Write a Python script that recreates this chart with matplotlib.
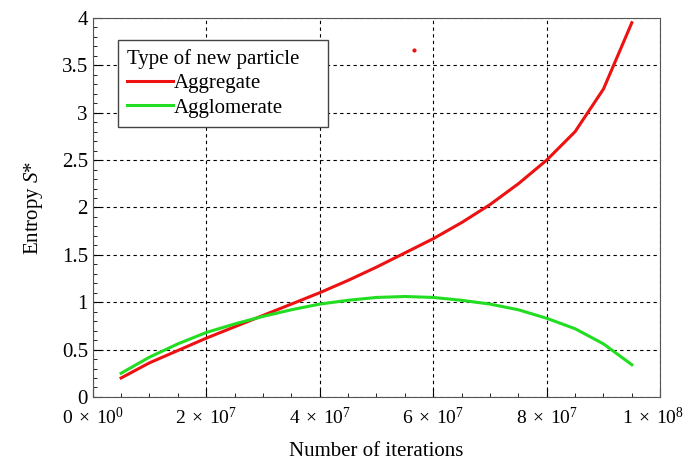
import numpy as np
import matplotlib
matplotlib.use('Agg')
import matplotlib.pyplot as plt
from matplotlib.ticker import MultipleLocator, FuncFormatter

plt.rcParams['font.family'] = 'Liberation Serif'
plt.rcParams['mathtext.fontset'] = 'custom'
plt.rcParams['mathtext.rm'] = 'Liberation Serif'
plt.rcParams['mathtext.it'] = 'Liberation Serif:italic'

# Data
iterations = [0.5e7, 1.0e7, 1.5e7, 2.0e7, 2.5e7, 3.0e7, 3.5e7, 4.0e7, 4.5e7, 5.0e7,
              5.5e7, 6.0e7, 6.5e7, 7.0e7, 7.5e7, 8.0e7, 8.5e7, 9.0e7, 9.5e7]
aggregate = [0.20, 0.36, 0.49, 0.62, 0.74, 0.86, 0.98, 1.10, 1.23, 1.37,
             1.52, 1.67, 1.84, 2.03, 2.25, 2.50, 2.80, 3.25, 3.95]
agglomerate = [0.25, 0.42, 0.56, 0.68, 0.77, 0.85, 0.92, 0.98, 1.02, 1.05,
               1.06, 1.05, 1.02, 0.98, 0.92, 0.83, 0.72, 0.56, 0.34]
stray_x = [5.66e7]
stray_y = [3.66]
x_max = 1e8

fig = plt.figure(figsize=(6.87, 4.61), dpi=100)
ax = fig.add_axes([0.135, 0.139, 0.826, 0.822])

ax.plot(iterations, aggregate, color='#ee1111', lw=2.2, label='Aggregate')
ax.plot(iterations, agglomerate, color='#22dd22', lw=2.2, label='Agglomerate')
ax.plot(stray_x, stray_y, 'o', color='#ee1111', ms=2)

ax.set_xlim(0, x_max)
ax.set_ylim(0, 4)
ax.xaxis.set_major_locator(MultipleLocator(2e7))
ax.xaxis.set_minor_locator(MultipleLocator(5e6))
ax.yaxis.set_major_locator(MultipleLocator(0.5))
ax.yaxis.set_minor_locator(MultipleLocator(0.1))


def sci(v, pos=None):
    if v <= 0:
        return r'$0\;\times\;10^{0}$'
    e = int(np.floor(np.log10(v) + 1e-9))
    m = v / 10 ** e
    return r'$%d\;\times\;10^{%d}$' % (round(m), e)


def xfmt(v, pos):
    # the label at the right end is drawn separately, pulled a little left
    if v >= x_max * 0.999:
        return ''
    return sci(v)


ax.xaxis.set_major_formatter(FuncFormatter(xfmt))
ax.yaxis.set_major_formatter(FuncFormatter(lambda v, p: ('%g' % v)))

ax.tick_params(which='both', direction='in', labelsize=15, colors='black')
ax.tick_params(axis='x', labelsize=14, pad=7)
ax.tick_params(which='major', length=6)
ax.tick_params(which='minor', length=3)
ax.grid(True, which='major', ls=(0, (3, 3)), color='black', lw=0.8)
for s in ax.spines.values():
    s.set_color('#555555')

ax.annotate(sci(x_max), xy=(1, 0), xycoords='axes fraction',
            xytext=(-5, -7), textcoords='offset points',
            ha='center', va='top', fontsize=14)

ax.set_xlabel('Number of iterations', fontsize=15, labelpad=10)
ax.set_ylabel('Entropy $S$*', fontsize=15, labelpad=12)

leg = ax.legend(title='Type of new particle', loc='upper left', fontsize=15,
                title_fontsize=15, fancybox=False, framealpha=1, edgecolor='#444444',
                bbox_to_anchor=(0.044, 0.0, 0.370, 0.942), mode='expand',
                borderaxespad=0.0, handlelength=2.2, handletextpad=0.05,
                labelspacing=0.22, borderpad=0.45)
leg._legend_box.align = 'left'

fig.savefig('out.png', dpi=100)
